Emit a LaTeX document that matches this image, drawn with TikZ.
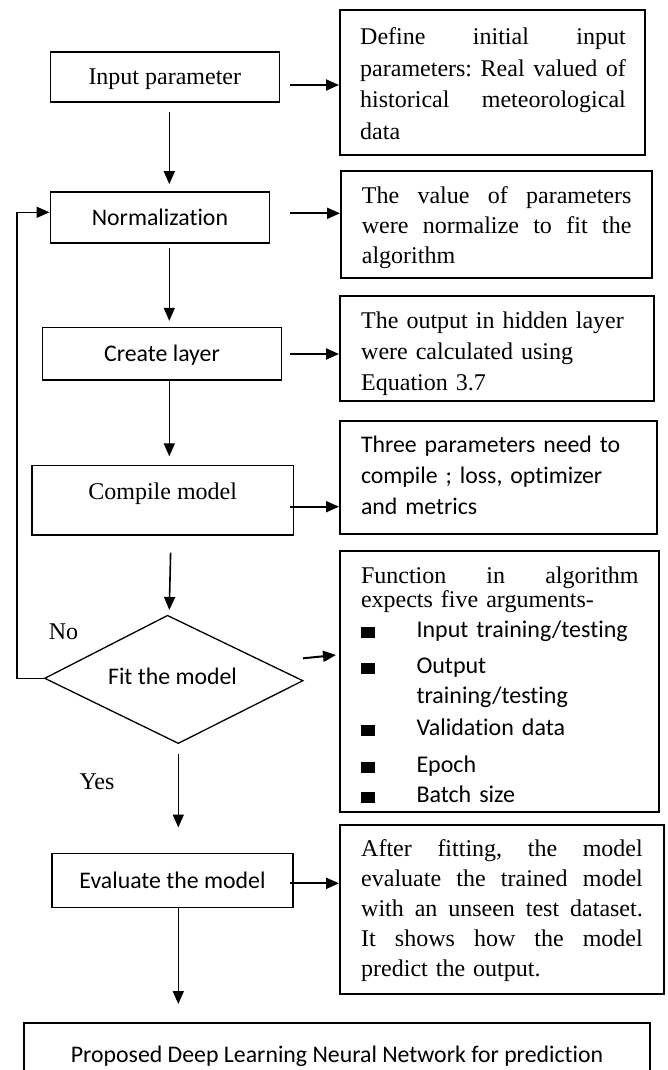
\documentclass[tikz,border=0pt]{standalone}
\usepackage{fontspec}
\setmainfont{Liberation Serif}
\newfontfamily\calfont[Ligatures=NoCommon]{Carlito}
\usetikzlibrary{arrows.meta}
\newcommand{\J}[2]{\leavevmode\hbox to #1{\spaceskip=0.25em plus 1fil\relax #2}}
\newcommand{\bul}{\makebox[55.5pt][l]{\rule[-1pt]{14pt}{11.5pt}}}
\frenchspacing
\begin{document}
\begin{tikzpicture}[x=1pt,y=-1pt,
  lbox/.style={draw, line width=1.6pt, inner sep=0pt, text height=15.5pt, text depth=0pt},
  rbox/.style={draw, line width=2pt, inner sep=0pt},
  arr/.style={line width=1.6pt, -{Triangle[length=13pt,width=11pt]}},
  harr/.style={line width=2pt, -{Triangle[length=13pt,width=11pt]}},
  ser/.style={font=\fontsize{24}{31}\selectfont},
  sans/.style={font=\calfont\fontsize{23.8}{31}\selectfont},
  txt/.style={inner sep=0pt, align=left, anchor=base west},
]
\useasboundingbox (0,0) rectangle (667,1070);
\clip (0,0) rectangle (667,1070);

% left column
\node[lbox, ser, minimum width=229pt, minimum height=50pt] (inp) at (164.8,77) {Input parameter};
\node[lbox, sans, minimum width=219.2pt, minimum height=51pt] (norm) at (159.9,217.5) {Normalization};
\node[lbox, sans, minimum width=238.8pt, minimum height=52.3pt] (crl) at (162,353.8) {Create layer};
\node[lbox, ser, minimum width=261.4pt, minimum height=69.3pt, text depth=17.2pt] (cmp) at (162.7,500.3) {Compile model};
\coordinate (dT) at (167.5,615.5);
\coordinate (dR) at (302.8,680.7);
\coordinate (dB) at (178.3,743.3);
\coordinate (dL) at (44.8,678.3);
\draw[line width=1.3pt] (dT) -- (dR) -- (dB) -- (dL) -- cycle;
\node[sans, inner sep=0pt, text height=15pt, text depth=0pt] (fit) at (172.5,677) {Fit the model};
\node[ser, inner sep=0pt, text height=15.5pt, text depth=0pt] (no) at (63.5,631.5) {No};
\node[ser, inner sep=0pt, text height=15.5pt, text depth=0pt] (yes) at (97,782) {Yes};
\node[lbox, sans, minimum width=241pt, minimum height=54pt] (ev) at (172.5,880.3) {Evaluate the model};
\node[rbox, sans, minimum width=626.8pt, minimum height=64pt, text height=15pt, text depth=0pt] (fin) at (337,1055) {Proposed Deep Learning Neural Network for prediction};

% right column boxes
\node[rbox, minimum width=305.2pt, minimum height=145.3pt] (b1) at (492.6,82.65) {};
\node[rbox, minimum width=310.6pt, minimum height=107.6pt] (b2) at (496.3,224.5) {};
\node[rbox, minimum width=313.7pt, minimum height=104.7pt] (b3) at (496.85,348.35) {};
\node[rbox, minimum width=316.7pt, minimum height=113.3pt] (b4) at (498.35,477.35) {};
\node[rbox, minimum width=318.8pt, minimum height=261.6pt] (b5) at (499.4,681.5) {};
\node[rbox, minimum width=324pt, minimum height=169pt] (b6) at (502,909.5) {};

% right column texts
\node[txt, text width=266pt, font=\fontsize{24}{31.7}\selectfont] (t1) at (360,44.5)
  {\J{265.6pt}{Define initial input}\\\J{265.6pt}{parameters: Real valued of}\\\J{265.6pt}{historical meteorological}\\data};
\node[txt, text width=270pt, font=\fontsize{24}{30}\selectfont] (t2) at (361.7,203.3)
  {\J{269.5pt}{The value of parameters}\\\J{269.5pt}{were normalize to fit the}\\algorithm};
\node[txt, text width=270pt, font=\fontsize{24}{31}\selectfont] (t3) at (361,328)
  {The output in hidden layer\\were calculated using\\Equation 3.7};
\node[txt, text width=280pt, font=\calfont\fontsize{23.8}{31}\selectfont] (t4) at (360.8,452.7)
  {Three parameters need to\\compile ; loss, optimizer\\and metrics};
\node[txt, text width=278pt, font=\fontsize{24}{30}\selectfont] (t5) at (360.8,583)
  {\J{277.6pt}{Function in algorithm}\\[-6pt]expects five arguments-\\
   {\calfont\bul Input training/testing}\\[6pt]
   {\calfont\bul Output}\\
   {\calfont\hspace*{55.5pt}training/testing}\\[2pt]
   {\calfont\bul Validation data}\\[7pt]
   {\calfont\bul Epoch}\\
   {\calfont\bul Batch size}};
\node[txt, text width=282pt, font=\fontsize{24}{30}\selectfont] (t6) at (361,856.7)
  {\J{281.6pt}{After fitting, the model}\\\J{281.6pt}{evaluate the trained model}\\\J{281.6pt}{with an unseen test dataset.}\\\J{281.6pt}{It shows how the model}\\predict the output.};

% arrow end points
\coordinate (vx) at (169.3,0);
\coordinate (vy) at (178.3,0);
\coordinate (h1) at (290,85);
\coordinate (h2) at (290,213.3);
\coordinate (h3) at (290,354);
\coordinate (h4) at (290,506.7);
\coordinate (h6) at (290,883.3);
\coordinate (s4) at (170.6,552.7);
\coordinate (e4) at (169.3,610);
\coordinate (fs) at (303,658.3);
\coordinate (fe) at (336,655);
\coordinate (fb) at (17,212.3);

% vertical flow
\draw[arr, shorten <=9pt, shorten >=7pt] (inp.south -| vx) -- (norm.north -| vx);
\draw[arr, shorten <=4pt, shorten >=6pt] (norm.south -| vx) -- (crl.north -| vx);
\draw[arr, shorten >=8.5pt] (crl.south -| vx) -- (cmp.north -| vx);
\draw[arr] (s4) -- (e4);
\draw[arr, shorten <=11pt, shorten >=25pt] (dB -| vy) -- (ev.north -| vy);
\draw[arr, shorten >=18pt] (ev.south -| vy) -- (fin.north -| vy);

% horizontal arrows
\draw[harr] (h1) -- (h1 -| b1.west);
\draw[harr] (h2) -- (h2 -| b2.west);
\draw[harr] (h3) -- (h3 -| b3.west);
\draw[harr] (h4) -- (h4 -| b4.west);
\draw[harr] (fs) -- (fe);
\draw[harr] (h6) -- (h6 -| b6.west);

% feedback loop
\draw[arr] (dL) -- (dL -| fb) -- (fb) -- (fb -| norm.west);
\end{tikzpicture}
\end{document}
